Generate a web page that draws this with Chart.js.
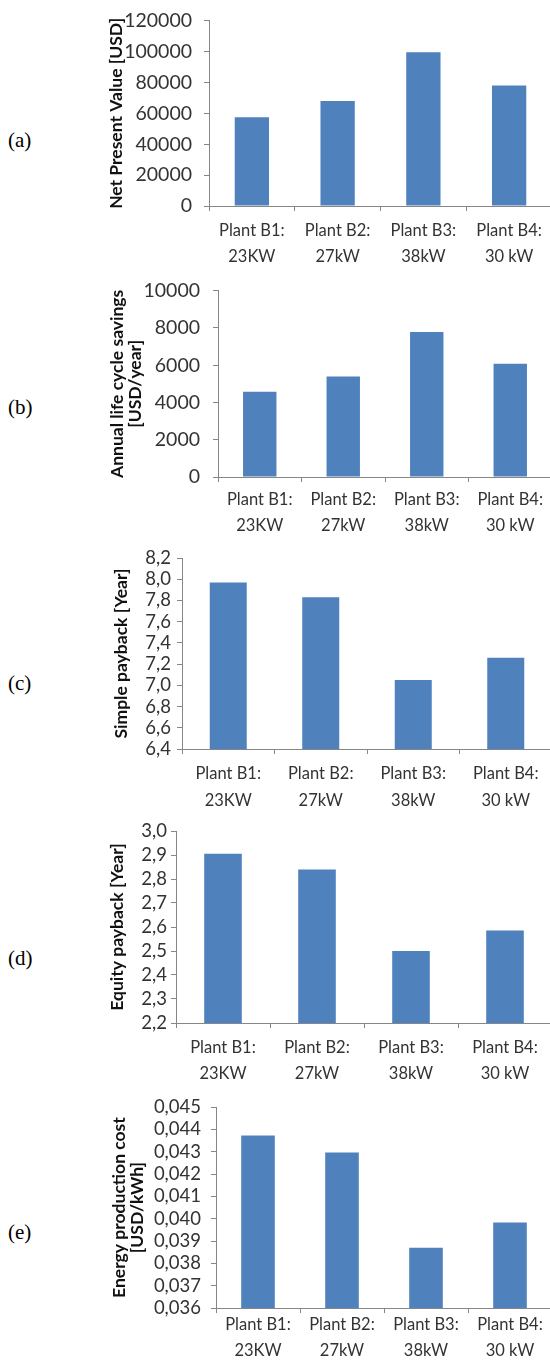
<!DOCTYPE html>
<html lang="en">
<head>
<meta charset="UTF-8">
<title>Plant B economics</title>
<style>
  html, body { margin: 0; padding: 0; background: #fff; }
  body { width: 550px; height: 1365px; position: relative; overflow: hidden; }
  canvas { position: absolute; left: 0; }
  .tag {
    position: absolute; left: 8px;
    font-family: 'Liberation Serif', 'Times New Roman', serif;
    font-size: 21px; line-height: 24px; color: #000;
  }
</style>
</head>
<body>

<div class="tag" style="top:128px">(a)</div>
<div class="tag" style="top:395px">(b)</div>
<div class="tag" style="top:671px">(c)</div>
<div class="tag" style="top:946px">(d)</div>
<div class="tag" style="top:1220px">(e)</div>

<canvas id="chartA"></canvas>
<canvas id="chartB"></canvas>
<canvas id="chartC"></canvas>
<canvas id="chartD"></canvas>
<canvas id="chartE"></canvas>

<script src="https://cdn.jsdelivr.net/npm/chart.js"></script>
<script>
// categories
const plants = [
  ['Plant B1:', '23KW'],
  ['Plant B2:', '27kW'],
  ['Plant B3:', '38kW'],
  ['Plant B4:', '30 kW']
];

// values
const netPresentValue = [57500, 68000, 99500, 78000];
const annualSavings = [4580, 5390, 7780, 6080];
const simplePayback = [7.97, 7.83, 7.05, 7.26];
const equityPayback = [2.905, 2.84, 2.50, 2.585];
const energyCost = [0.04373, 0.04297, 0.0387, 0.03983];

// axis ranges [min, max, step, decimals]
const rangeA = [0, 120000, 20000, 0];
const rangeB = [0, 10000, 2000, 0];
const rangeC = [6.4, 8.2, 0.2, 1];
const rangeD = [2.2, 3.0, 0.1, 1];
const rangeE = [0.036, 0.045, 0.001, 3];

const FONT = 'Lato, "Open Sans", sans-serif';
const AXIS = '#868686';
const BAR = '#4F81BD';

// where each panel sits on the page
const panels = [
  { id: 'chartA', values: netPresentValue, range: rangeA, title: 'Net Present Value [USD]',
    top: 17, bottom: 206, left: 209, titleX: 116, titleLH: 19, tickPad: 12, tickSize: 19.5, labelPad: 6.5, lineH: 26 },
  { id: 'chartB', values: annualSavings, range: rangeB, title: ['Annual life cycle savings', '[USD/year]'],
    top: 286, bottom: 477, left: 218, titleX: 117, titleLH: 18.5, tickPad: 13, tickSize: 19.5, labelPad: 4.5, lineH: 26 },
  { id: 'chartC', values: simplePayback, range: rangeC, title: 'Simple payback [Year]',
    top: 558, bottom: 749, left: 182, titleX: 121, titleLH: 19, tickPad: 6, tickSize: 18.5, labelPad: 6, lineH: 27 },
  { id: 'chartD', values: equityPayback, range: rangeD, title: 'Equity payback [Year]',
    top: 831, bottom: 1023, left: 176, titleX: 117, titleLH: 19, tickPad: 4, tickSize: 18.5, labelPad: 7, lineH: 25.7 },
  { id: 'chartE', values: energyCost, range: rangeE, title: ['Energy production cost', '[USD/kWh]'],
    top: 1106, bottom: 1308, left: 216, titleX: 119.5, titleLH: 18, tickPad: 10, tickSize: 18.5, labelPad: -1, lineH: 25.6 }
];

const PAD_TOP = 20;
const X_AXIS_H = 70;
const CANVAS_W = 560;
const RIGHT_PAD = 8;

function makePanel(p) {
  const canvas = document.getElementById(p.id);
  const canvasTop = p.top - PAD_TOP;
  canvas.width = CANVAS_W;
  canvas.height = p.bottom - canvasTop + X_AXIS_H;
  canvas.style.top = canvasTop + 'px';

  const [min, max, step, dec] = p.range;

  new Chart(canvas.getContext('2d'), {
    type: 'bar',
    data: {
      labels: plants,
      datasets: [{
        data: p.values,
        backgroundColor: BAR,
        borderWidth: 0,
        categoryPercentage: 1,
        barPercentage: 0.4
      }]
    },
    options: {
      responsive: false,
      devicePixelRatio: 1,
      animation: false,
      layout: { padding: { top: PAD_TOP, left: 0, right: RIGHT_PAD, bottom: 0 } },
      plugins: { legend: { display: false }, tooltip: { enabled: false } },
      scales: {
        x: {
          grid: { display: true, offset: true, drawOnChartArea: false, drawTicks: true, tickLength: 5, color: AXIS },
          border: { display: true, color: AXIS, width: 1 },
          ticks: {
            color: '#333',
            padding: p.labelPad,
            maxRotation: 0,
            autoSkip: false,
            font: { family: FONT, size: 16.5, lineHeight: p.lineH + 'px' }
          },
          afterFit: s => { s.height = X_AXIS_H; }
        },
        y: {
          min: min,
          max: max,
          grid: { display: true, drawOnChartArea: false, drawTicks: true, tickLength: 5, color: AXIS },
          border: { display: true, color: AXIS, width: 1 },
          ticks: {
            stepSize: step,
            autoSkip: false,
            color: '#333',
            padding: p.tickPad,
            font: { family: FONT, size: p.tickSize },
            callback: v => dec === 0 ? String(Math.round(v)) : v.toFixed(dec).replace('.', ',')
          },
          title: {
            display: true,
            text: p.title,
            color: '#111',
            font: { family: FONT, size: 17.5, weight: 'bold', lineHeight: p.titleLH + 'px' },
            padding: { top: p.titleX - p.titleLH / 2, bottom: 0 }
          },
          afterFit: s => { s.width = p.left; }
        }
      }
    }
  });
}

panels.forEach(makePanel);
</script>
</body>
</html>
